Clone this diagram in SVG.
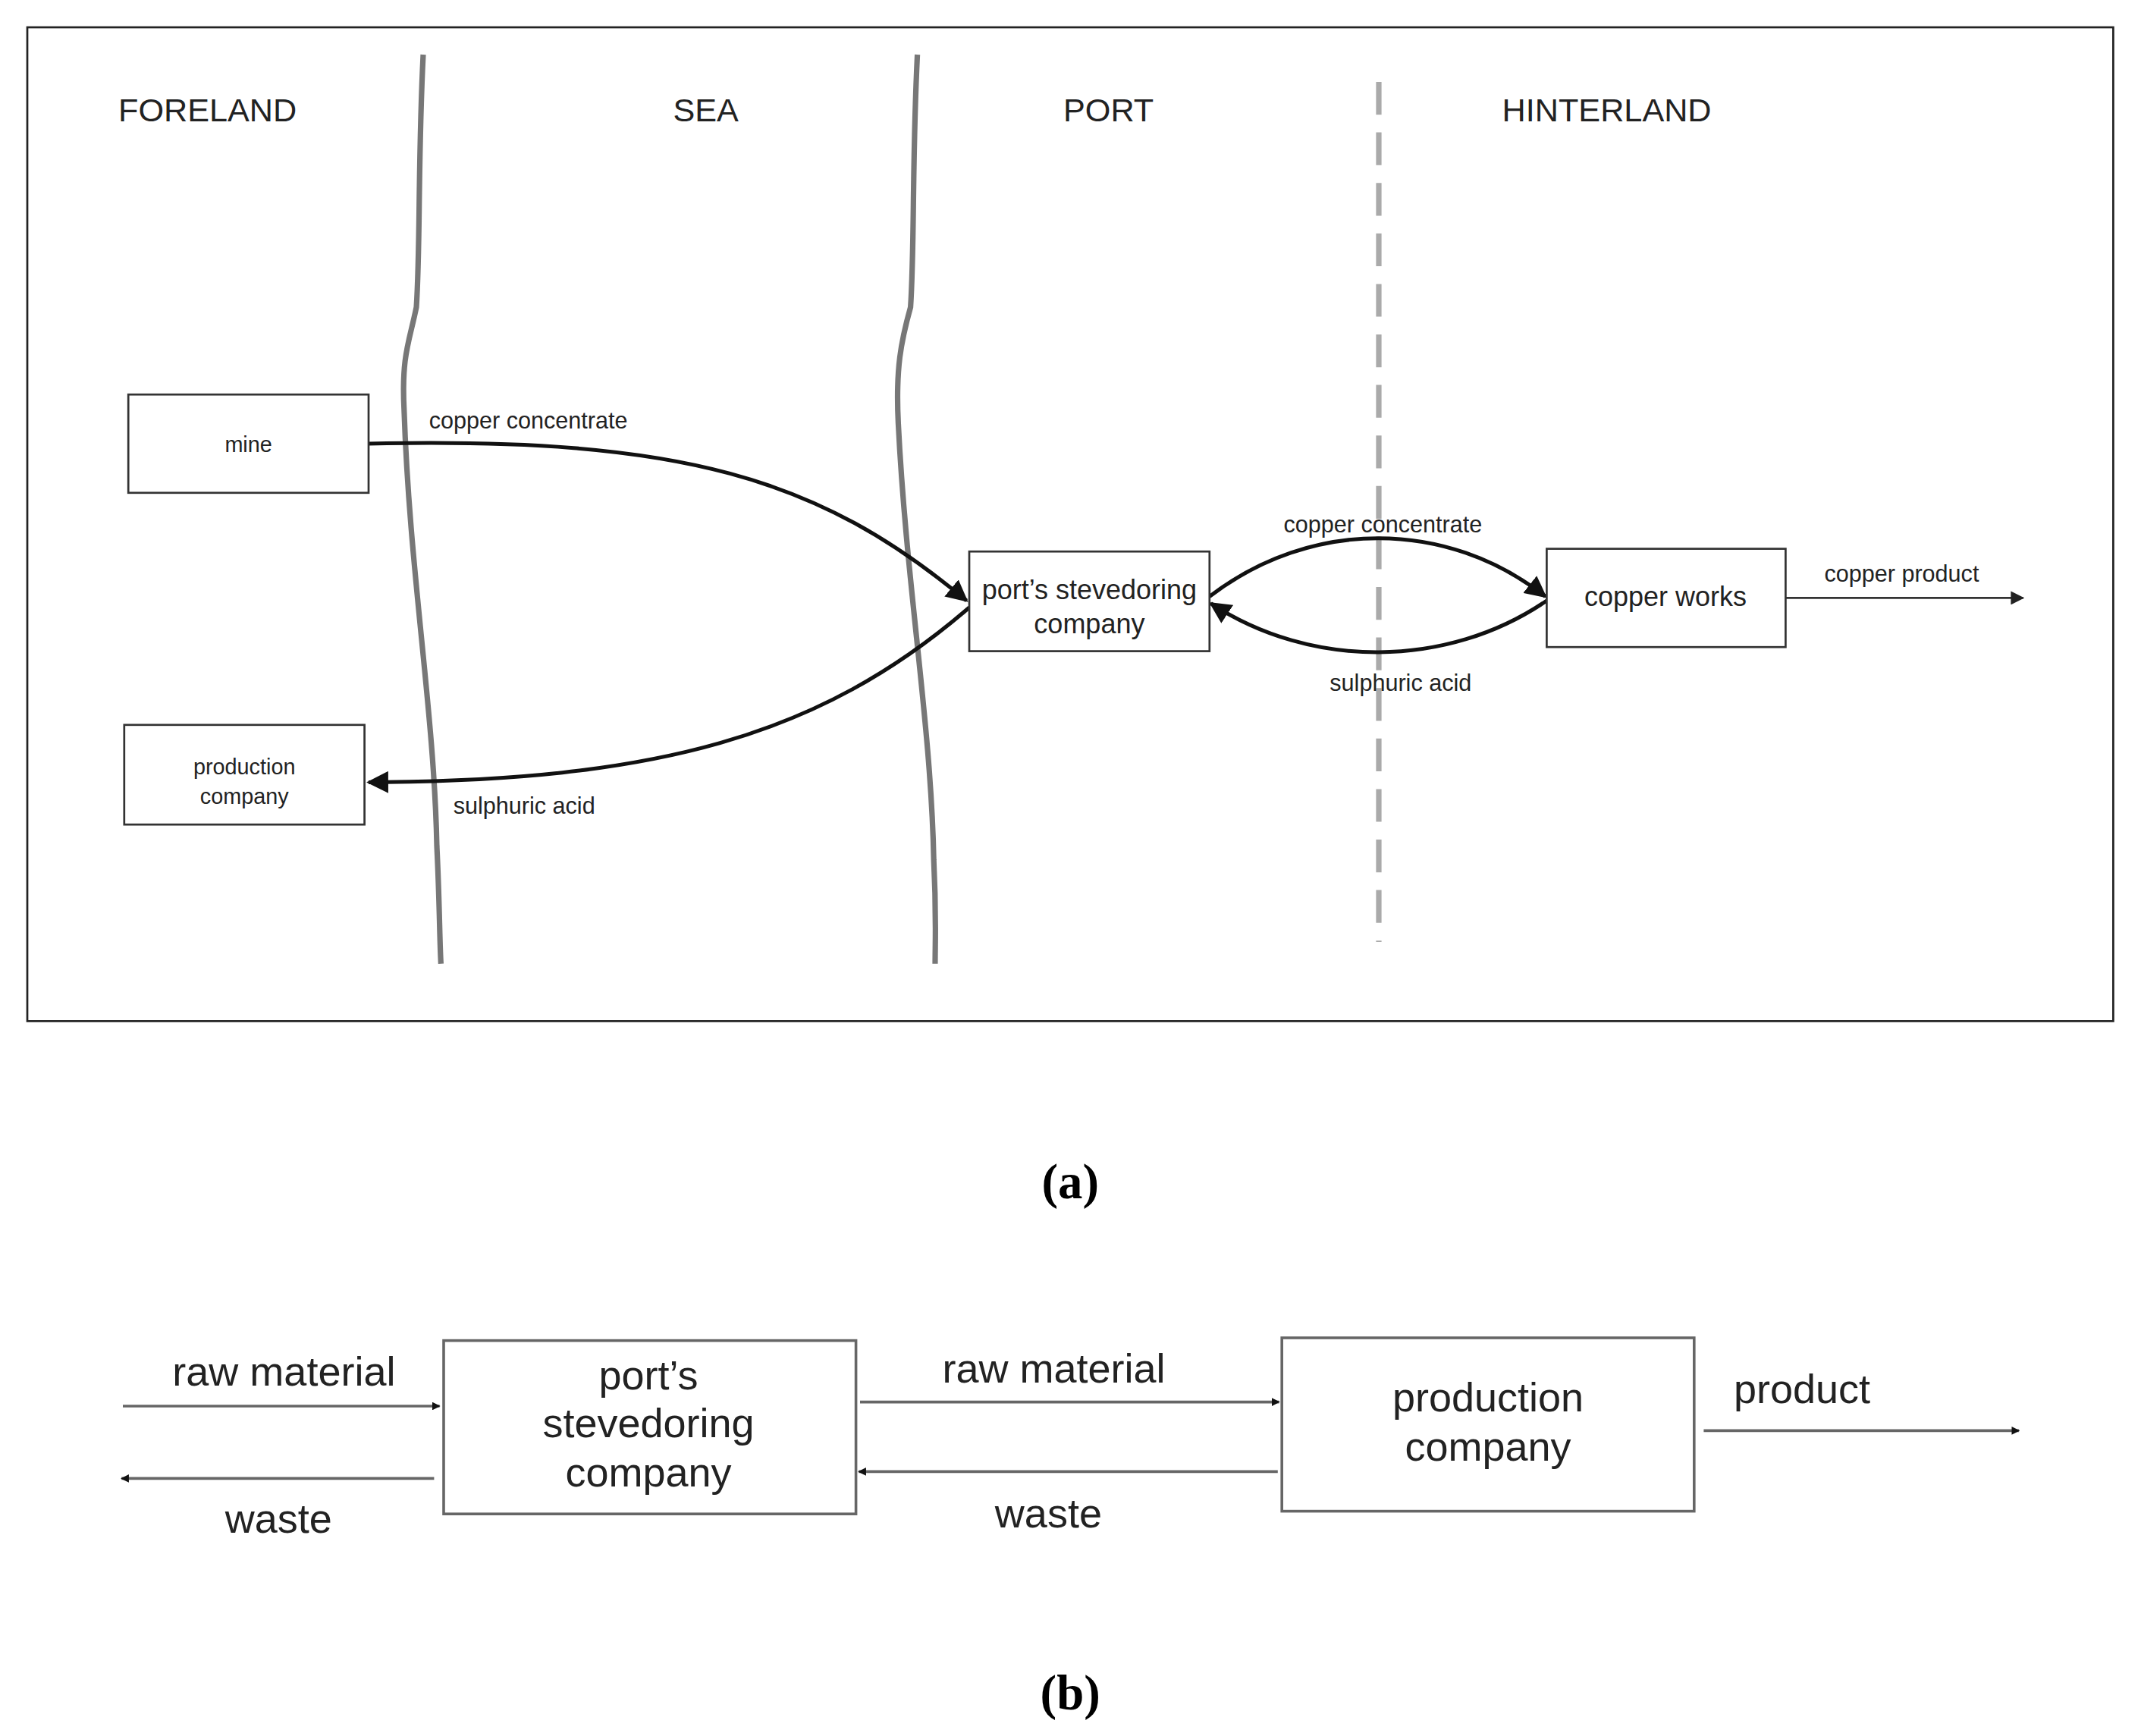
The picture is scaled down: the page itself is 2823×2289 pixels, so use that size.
<svg xmlns="http://www.w3.org/2000/svg" width="2823" height="2289" viewBox="0 0 2823 2289">
<style>
.t{font-family:"Liberation Sans",Arial,sans-serif;fill:#222;text-anchor:middle}
.box{fill:#fff;stroke:#333;stroke-width:1.5}
.c{fill:none;stroke:#111;stroke-width:2.8}
.thin{fill:none;stroke:#333;stroke-width:1.5}
.b{fill:none;stroke:#666;stroke-width:2}
.cap{font-family:"Liberation Serif","Times New Roman",serif;font-weight:bold;font-size:36px;text-anchor:middle;fill:#000}
</style>
<defs>
<marker id="ah" viewBox="0 0 10 10" refX="9" refY="5" markerWidth="6" markerHeight="6" markerUnits="userSpaceOnUse" orient="auto"><path d="M0,0L10,5L0,10z" fill="#111"/></marker>
<marker id="ahb" viewBox="0 0 10 10" refX="9" refY="5" markerWidth="16" markerHeight="16" markerUnits="userSpaceOnUse" orient="auto"><path d="M0,0L10,5L0,10z" fill="#111"/></marker>
<marker id="ahs" viewBox="0 0 10 10" refX="9" refY="5" markerWidth="10" markerHeight="10" markerUnits="userSpaceOnUse" orient="auto"><path d="M0,0L10,5L0,10z" fill="#222"/></marker>
</defs>
<rect width="2823" height="2289" fill="#fff"/>
<g transform="scale(1.8)">
<rect x="20" y="20" width="1528" height="728" fill="none" stroke="#222" stroke-width="1.5"/>
<g id="zones">
<text class="t" x="152" y="89" font-size="24">FORELAND</text>
<text class="t" x="517" y="89" font-size="24">SEA</text>
<text class="t" x="812" y="89" font-size="24">PORT</text>
<text class="t" x="1177" y="89" font-size="24">HINTERLAND</text>
<path d="M310,40 C306,120 308,180 305,225 C300,250 294,260 296,300 C300,420 318,520 320,620 C322,660 322,690 323,706" fill="none" stroke="#777" stroke-width="4"/>
<path d="M672,40 C668,120 670,180 667,225 C660,250 656,270 658,310 C664,430 682,530 684,630 C686,670 685,690 685,706" fill="none" stroke="#777" stroke-width="4"/>
<line x1="1010" y1="60" x2="1010" y2="690" stroke="#aaa" stroke-width="4" stroke-dasharray="24 13"/>
</g>
<g id="connectors">
<path class="c" d="M270,325 C500,320 600,350 708,440" marker-end="url(#ahb)"/>
<path class="c" d="M710,445 C600,540 480,572 270,573" marker-end="url(#ahb)"/>
<path class="c" d="M886,437 C960,380 1060,380 1132,437" marker-end="url(#ahb)"/>
<path class="c" d="M1133,440 C1060,490 960,490 887,442" marker-end="url(#ahb)"/>
<line class="thin" x1="1308" y1="438" x2="1482" y2="438" marker-end="url(#ahs)"/>
<text class="t" x="387" y="314" font-size="17">copper concentrate</text>
<text class="t" x="384" y="596" font-size="17">sulphuric acid</text>
<text class="t" x="1013" y="390" font-size="17">copper concentrate</text>
<text class="t" x="1026" y="506" font-size="17">sulphuric acid</text>
<text class="t" x="1393" y="426" font-size="17">copper product</text>
<line class="b" x1="90" y1="1030" x2="322" y2="1030" marker-end="url(#ah)"/>
<line class="b" x1="318" y1="1083" x2="89" y2="1083" marker-end="url(#ah)"/>
<line class="b" x1="630" y1="1027" x2="937" y2="1027" marker-end="url(#ah)"/>
<line class="b" x1="936" y1="1078" x2="629" y2="1078" marker-end="url(#ah)"/>
<line class="b" x1="1248" y1="1048" x2="1479" y2="1048" marker-end="url(#ah)"/>
<text class="t" x="208" y="1015" font-size="30" fill="#333">raw material</text>
<text class="t" x="204" y="1123" font-size="30" fill="#333">waste</text>
<text class="t" x="772" y="1013" font-size="30" fill="#333">raw material</text>
<text class="t" x="768" y="1119" font-size="30" fill="#333">waste</text>
<text class="t" x="1320" y="1028" font-size="30" fill="#333">product</text>
</g>
<g id="mine"><rect class="box" x="94" y="289" width="176" height="72"/><text class="t" x="182" y="331" font-size="16">mine</text></g>
<g id="production-a"><rect class="box" x="91" y="531" width="176" height="73"/><text class="t" x="179" y="567" font-size="16">production</text><text class="t" x="179" y="589" font-size="16">company</text></g>
<g id="stevedoring-a"><rect class="box" x="710" y="404" width="176" height="73"/><text class="t" x="798" y="439" font-size="20">port’s stevedoring</text><text class="t" x="798" y="464" font-size="20">company</text></g>
<g id="copperworks"><rect class="box" x="1133" y="402" width="175" height="72"/><text class="t" x="1220" y="444" font-size="20">copper works</text></g>
<g id="stevedoring-b"><rect x="325" y="982" width="302" height="127" fill="#fff" stroke="#666" stroke-width="2"/><text class="t" x="475" y="1018" font-size="30" fill="#333">port’s</text><text class="t" x="475" y="1053" font-size="30" fill="#333">stevedoring</text><text class="t" x="475" y="1089" font-size="30" fill="#333">company</text></g>
<g id="production-b"><rect x="939" y="980" width="302" height="127" fill="#fff" stroke="#666" stroke-width="2"/><text class="t" x="1090" y="1034" font-size="30" fill="#333">production</text><text class="t" x="1090" y="1070" font-size="30" fill="#333">company</text></g>
<text class="cap" x="784" y="878">(a)</text>
<text class="cap" x="784" y="1252">(b)</text>
</g>
</svg>
